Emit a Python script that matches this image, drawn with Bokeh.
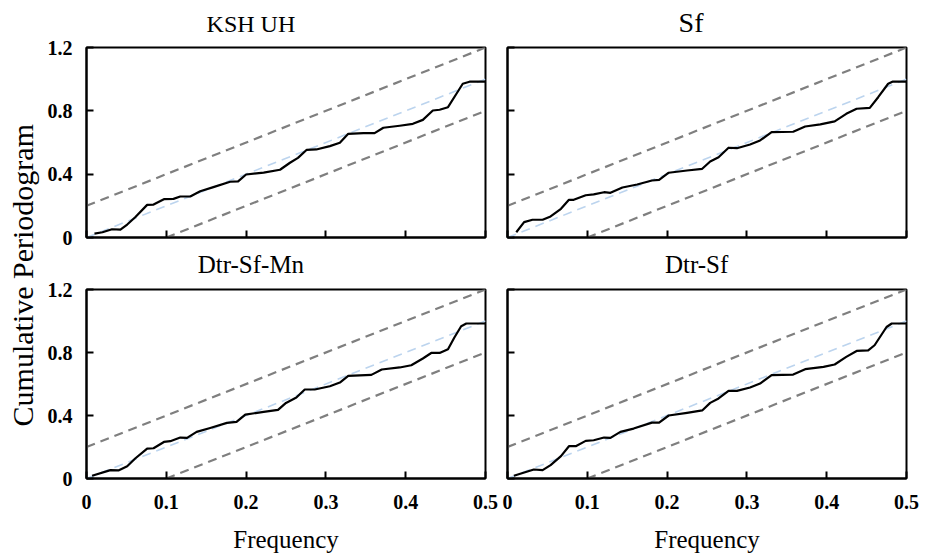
from math import pi
from bokeh.plotting import figure
from bokeh.layouts import row, column
from bokeh.models import Range1d, FixedTicker, Label, CustomLabelingPolicy
from bokeh.embed import file_html
from bokeh.resources import INLINE

FONT = "Liberation Serif"

# ---- tick values / labels ----
x_ticks = [0, 0.1, 0.2, 0.3, 0.4, 0.5]
x_tick_labels = ["0", "0.1", "0.2", "0.3", "0.4", "0.5"]
y_ticks = [0, 0.4, 0.8, 1.2]
y_tick_labels = ["0", "0.4", "0.8", "1.2"]

# ---- reference lines (white-noise line and confidence bounds) ----
band_f = [0.0, 0.5]
center_cp = [0.0, 1.0]
upper_cp = [0.2, 1.2]
lower_f = [0.1, 0.5]
lower_cp = [0.0, 0.8]

# ---- cumulative periodogram series ----
ksh_f = [0.010, 0.020, 0.032, 0.0425, 0.051, 0.061, 0.076, 0.084, 0.097, 0.109,
         0.1175, 0.130, 0.1425, 0.159, 0.180, 0.190, 0.200, 0.222, 0.2425, 0.255,
         0.265, 0.276, 0.288, 0.305, 0.3175, 0.328, 0.347, 0.361, 0.372, 0.3925,
         0.409, 0.4215, 0.434, 0.4425, 0.453, 0.463, 0.4715, 0.480, 0.4925, 0.500]
ksh_cp = [0.025, 0.033, 0.052, 0.050, 0.082, 0.128, 0.206, 0.208, 0.242, 0.244,
          0.259, 0.259, 0.292, 0.318, 0.352, 0.354, 0.398, 0.410, 0.428, 0.472,
          0.503, 0.554, 0.556, 0.577, 0.598, 0.655, 0.659, 0.659, 0.693, 0.706,
          0.718, 0.743, 0.802, 0.807, 0.823, 0.903, 0.971, 0.984, 0.984, 0.984]

sf_f = [0.011, 0.0208, 0.0313, 0.044, 0.054, 0.067, 0.077, 0.083, 0.098, 0.108,
        0.121, 0.129, 0.144, 0.1625, 0.181, 0.190, 0.202, 0.225, 0.244, 0.254,
        0.2645, 0.277, 0.2875, 0.304, 0.3165, 0.331, 0.358, 0.373, 0.392, 0.410,
        0.4245, 0.4375, 0.454, 0.4645, 0.477, 0.483, 0.500]
sf_cp = [0.033, 0.097, 0.112, 0.112, 0.133, 0.181, 0.238, 0.238, 0.267, 0.272,
         0.286, 0.282, 0.316, 0.335, 0.360, 0.364, 0.409, 0.423, 0.434, 0.480,
         0.507, 0.567, 0.564, 0.587, 0.613, 0.665, 0.668, 0.701, 0.714, 0.733,
         0.781, 0.813, 0.819, 0.886, 0.971, 0.985, 0.985]

dsm_f = [0.007, 0.030, 0.040, 0.051, 0.061, 0.076, 0.084, 0.097, 0.105, 0.1175,
         0.126, 0.138, 0.155, 0.176, 0.188, 0.199, 0.222, 0.240, 0.250, 0.263,
         0.2735, 0.286, 0.305, 0.3175, 0.328, 0.357, 0.370, 0.3925, 0.407, 0.4215,
         0.432, 0.4425, 0.453, 0.461, 0.4695, 0.476, 0.500]
dsm_cp = [0.017, 0.053, 0.051, 0.078, 0.127, 0.190, 0.192, 0.232, 0.237, 0.260,
          0.258, 0.296, 0.321, 0.353, 0.359, 0.406, 0.423, 0.436, 0.480, 0.514,
          0.565, 0.565, 0.586, 0.609, 0.651, 0.658, 0.692, 0.705, 0.719, 0.762,
          0.797, 0.797, 0.821, 0.895, 0.967, 0.984, 0.984]

ds_f = [0.008, 0.033, 0.044, 0.054, 0.067, 0.077, 0.0855, 0.098, 0.108, 0.121,
        0.129, 0.1415, 0.158, 0.181, 0.190, 0.202, 0.225, 0.244, 0.254, 0.2645,
        0.277, 0.2875, 0.304, 0.3165, 0.331, 0.358, 0.373, 0.396, 0.410, 0.4245,
        0.4375, 0.452, 0.460, 0.475, 0.4815, 0.500]
ds_cp = [0.017, 0.057, 0.053, 0.085, 0.142, 0.205, 0.205, 0.239, 0.243, 0.260,
         0.258, 0.296, 0.317, 0.355, 0.355, 0.400, 0.417, 0.432, 0.480, 0.508,
         0.556, 0.556, 0.578, 0.603, 0.656, 0.660, 0.694, 0.709, 0.724, 0.772,
         0.810, 0.813, 0.846, 0.962, 0.984, 0.984]

HIDE_ALL = "for (const i of indices) { indices.unset(i) } return indices"


def style_axis(ax, ticks, labels, show, standoff):
    ax.ticker = FixedTicker(ticks=ticks)
    ax.major_label_overrides = {t: l for t, l in zip(ticks, labels)}
    ax.major_tick_in = 7
    ax.major_tick_out = 0
    ax.minor_tick_line_color = None
    ax.major_tick_line_width = 2
    ax.major_tick_line_color = "black"
    ax.axis_line_width = 2
    ax.axis_line_color = "black"
    ax.major_label_text_font = FONT
    ax.major_label_text_font_style = "bold"
    ax.major_label_text_color = "black"
    if show:
        ax.major_label_text_font_size = "20px"
        ax.major_label_standoff = standoff
    else:
        ax.major_label_text_font_size = "0px"
        ax.major_label_standoff = 0
        ax.major_label_policy = CustomLabelingPolicy(code=HIDE_ALL)


def side_borders(left_col):
    return (44, 13) if left_col else (9, 14)


def make_title_strip(title, size, tx, ty, strip_h, left_col):
    bl_, br_ = side_borders(left_col)
    width = 456 if left_col else 422
    s = figure(width=width, height=strip_h, x_range=Range1d(0, 0.5),
               y_range=Range1d(0, strip_h), output_backend="svg", toolbar_location=None,
               x_axis_location=None, y_axis_location=None,
               min_border_left=bl_, min_border_right=br_,
               min_border_top=0, min_border_bottom=0)
    s.grid.visible = False
    s.outline_line_color = None
    s.background_fill_color = "white"
    s.border_fill_color = "white"
    s.add_layout(Label(x=tx, y=ty, text=title, text_align="center",
                       text_baseline="middle", text_font=FONT,
                       text_font_size=size, text_color="black"))
    return s


def make_panel(f, cp, bottom_row, left_col):
    bl_, br_ = side_borders(left_col)
    width = 456 if left_col else 422
    height = 277 if bottom_row else 212
    p = figure(width=width, height=height,
               x_range=Range1d(0, 0.5), y_range=Range1d(0, 1.2),
               output_backend="svg", toolbar_location=None,
               min_border_left=bl_, min_border_right=br_,
               min_border_top=11 if bottom_row else 10,
               min_border_bottom=77 if bottom_row else 12)
    p.grid.visible = False
    p.outline_line_color = "black"
    p.outline_line_width = 2
    p.outline_line_alpha = 1
    p.background_fill_color = "white"
    p.border_fill_color = "white"
    style_axis(p.xaxis[0], x_ticks, x_tick_labels, bottom_row, 16)
    style_axis(p.yaxis[0], y_ticks, y_tick_labels, left_col, 14)
    if bottom_row:
        p.xaxis.axis_label = "Frequency"
        p.xaxis.axis_label_text_font = FONT
        p.xaxis.axis_label_text_font_size = "25px"
        p.xaxis.axis_label_text_font_style = "normal"
        p.xaxis.axis_label_text_color = "black"
        p.xaxis.axis_label_standoff = 14

    p.line(band_f, upper_cp, line_color="#7f7f7f", line_width=2.2, line_dash="9 6")
    p.line(lower_f, lower_cp, line_color="#7f7f7f", line_width=2.2, line_dash="9 6")
    p.line(band_f, center_cp, line_color="#bcd4ee", line_width=1.6, line_dash="9 6")
    p.line(f, cp, line_color="black", line_width=2.2, line_join="round")
    return p


t_tl = make_title_strip("KSH UH", "24px", 0.206, 14.0, 37, True)
t_tr = make_title_strip("Sf", "28px", 0.230, 15.5, 37, False)
t_bl = make_title_strip("Dtr-Sf-Mn", "25px", 0.206, 14.5, 29, True)
t_br = make_title_strip("Dtr-Sf", "25px", 0.237, 14.5, 29, False)

tl = make_panel(ksh_f, ksh_cp, False, True)
tr = make_panel(sf_f, sf_cp, False, False)
bl = make_panel(dsm_f, dsm_cp, True, True)
br = make_panel(ds_f, ds_cp, True, False)

lab = figure(width=42, height=555, x_range=Range1d(0, 1), y_range=Range1d(0, 1),
             output_backend="svg", toolbar_location=None,
             x_axis_location=None, y_axis_location=None,
             min_border_left=0, min_border_right=0, min_border_top=0, min_border_bottom=0)
lab.grid.visible = False
lab.outline_line_color = None
lab.add_layout(Label(x=0.52, y=0.505, text="Cumulative Periodogram", angle=pi / 2,
                     text_align="center", text_baseline="middle",
                     text_font=FONT, text_font_size="30px", text_color="black"))

layout = row(lab, column(row(t_tl, t_tr), row(tl, tr), row(t_bl, t_br), row(bl, br)))

open("out.html", "w").write(file_html(layout, INLINE))
